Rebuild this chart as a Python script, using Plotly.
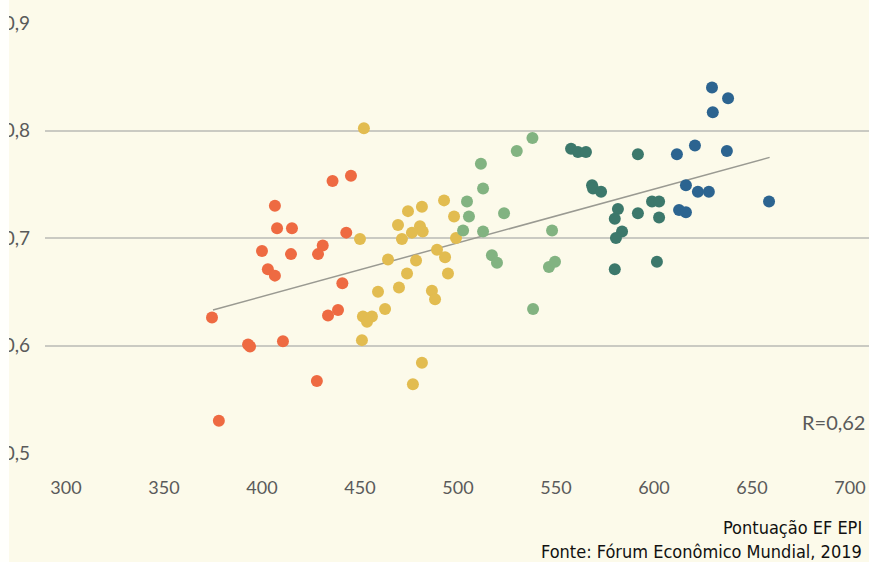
import plotly.graph_objects as go

# ---- data (EF EPI score vs index value) ----
orange_x = [374.5, 378, 392.9, 393.9, 400, 403, 406.6, 406.6, 407.7, 415.3, 414.8, 410.7,
            428.6, 431, 428, 433.7, 438.8, 436, 441, 443, 445.4]
orange_y = [0.626, 0.530, 0.601, 0.599, 0.688, 0.671, 0.730, 0.665, 0.709, 0.709, 0.685, 0.604,
            0.685, 0.693, 0.567, 0.628, 0.633, 0.753, 0.658, 0.705, 0.758]

yellow_x = [452, 474.5, 481.6, 492.9, 498, 469.4, 480.6, 476.5, 482, 471.4, 450, 499,
            489.3, 493.4, 464.3, 478.6, 474, 494.9, 469.9, 459.2, 486.7, 488.3, 462.8,
            451.5, 456.1, 453.6, 451, 481.6, 477]
yellow_y = [0.802, 0.725, 0.729, 0.735, 0.720, 0.712, 0.711, 0.705, 0.706, 0.699, 0.699, 0.700,
            0.689, 0.682, 0.680, 0.679, 0.667, 0.667, 0.654, 0.650, 0.651, 0.643, 0.634,
            0.627, 0.627, 0.622, 0.605, 0.584, 0.564]

green_x = [530, 538, 511.7, 512.8, 504.6, 505.6, 523.5, 502.6, 512.8, 517.3, 519.9,
           548, 546.4, 549.5, 538.3]
green_y = [0.781, 0.793, 0.769, 0.746, 0.734, 0.720, 0.723, 0.707, 0.706, 0.684, 0.677,
           0.707, 0.673, 0.678, 0.634]

teal_x = [557.7, 561.2, 565.3, 568.4, 568.9, 573, 591.8, 581.6, 580, 591.8, 599, 602.6,
          602.6, 583.7, 580.6, 580, 601.5]
teal_y = [0.783, 0.780, 0.780, 0.749, 0.746, 0.743, 0.778, 0.727, 0.718, 0.723, 0.734, 0.734,
          0.719, 0.706, 0.700, 0.671, 0.678]

blue_x = [629.6, 637.8, 630, 611.7, 620.9, 637.2, 616.3, 622.4, 628, 612.8, 616.3, 658.7]
blue_y = [0.840, 0.830, 0.817, 0.778, 0.786, 0.781, 0.749, 0.743, 0.743, 0.726, 0.724, 0.734]

trend_x = [375, 659]
trend_y = [0.633, 0.775]

x_ticks = [300, 350, 400, 450, 500, 550, 600, 650, 700]
y_ticks = [0.5, 0.6, 0.7, 0.8, 0.9]
y_tick_text = ["0,5", "0,6", "0,7", "0,8", "0,9"]

r_label = "R=0,62"
x_title = "Pontuação EF EPI"
source = "Fonte: Fórum Econômico Mundial, 2019"

series = [
    (orange_x, orange_y, "#EE6A42"),
    (yellow_x, yellow_y, "#E2BC50"),
    (green_x, green_y, "#82B381"),
    (teal_x, teal_y, "#3C786B"),
    (blue_x, blue_y, "#2C6490"),
]

BG = "#FCFAEA"
TICK_FONT = dict(family="Lato, Open Sans, sans-serif", size=18, color="#5A5A5A")
NARROW = "Liberation Sans Narrow, DejaVu Sans Condensed, sans-serif"

fig = go.Figure()

fig.add_trace(go.Scatter(x=trend_x, y=trend_y, mode="lines",
                         line=dict(color="#9A9A92", width=1.5),
                         hoverinfo="skip", showlegend=False))

for xs, ys, col in series:
    fig.add_trace(go.Scatter(x=xs, y=ys, mode="markers",
                             marker=dict(size=12, color=col, line=dict(width=0)),
                             showlegend=False))

W, H = 869, 562
L, R, T, B = 45, 0, 23, 109
PW, PH = W - L - R, H - T - B

fig.update_layout(
    width=W, height=H,
    margin=dict(l=L, r=R, t=T, b=B, pad=0),
    paper_bgcolor=BG, plot_bgcolor=BG,
    showlegend=False,
    xaxis=dict(range=[289.3, 709.7], tickvals=x_ticks, showgrid=False, zeroline=False,
               showline=False, ticks="", tickfont=TICK_FONT, ticklabelstandoff=22,
               fixedrange=True),
    yaxis=dict(range=[0.5, 0.9], tickvals=y_ticks, ticktext=y_tick_text, showgrid=True,
               gridcolor="#CACAC2", gridwidth=1.5, zeroline=False, showline=False,
               ticks="", tickfont=dict(TICK_FONT, size=19), ticklabelstandoff=14,
               fixedrange=True),
    shapes=[
        dict(type="rect", xref="paper", yref="paper",
             x0=-L / PW, x1=-(L - 9) / PW, y0=-B / PH, y1=1 + T / PH,
             fillcolor="#FFFFFC", line=dict(width=0), layer="above"),
    ],
    annotations=[
        dict(text=r_label, xref="paper", yref="y", x=0.997, y=0.529, xanchor="right",
             yanchor="middle", showarrow=False, font=dict(TICK_FONT, size=20)),
        dict(text=x_title, xref="paper", yref="paper", x=0.994, y=-(527 - 453) / PH,
             xanchor="right", yanchor="middle", showarrow=False,
             font=dict(family=NARROW, size=18, color="#111111")),
        dict(text=source, xref="paper", yref="paper", x=0.994, y=-(551 - 453) / PH,
             xanchor="right", yanchor="middle", showarrow=False,
             font=dict(family=NARROW, size=18, color="#111111")),
    ],
)

fig.write_html("out.html", config={"displayModeBar": False},
               post_script="document.body.style.margin='0';document.body.style.overflow='hidden';")
